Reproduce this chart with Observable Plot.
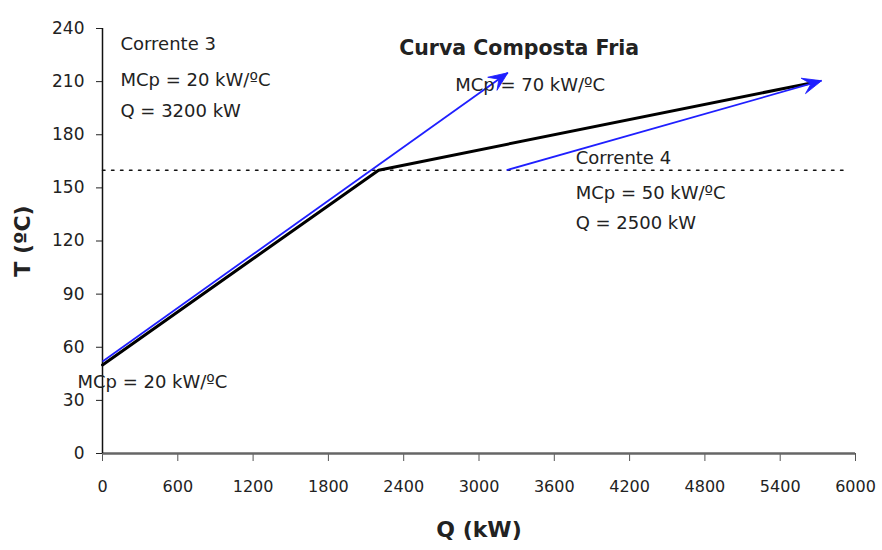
<!DOCTYPE html>
<html><head><meta charset="utf-8">
<script src="https://cdn.jsdelivr.net/npm/d3@7"></script>
<script src="https://cdn.jsdelivr.net/npm/@observablehq/plot@0.6"></script>
<style>body{margin:0;background:#fff}</style>
</head><body><div id="chart"></div>
<script>
const xTicks = [0, 600, 1200, 1800, 2400, 3000, 3600, 4200, 4800, 5400, 6000];
const yTicks = [0, 30, 60, 90, 120, 150, 180, 210, 240];

// composite cold curve
const compositeQ = [0, 2200, 5700];
const compositeT = [50, 160, 210];

// individual streams (arrows)
const streamNames = ["Corrente 3", "Corrente 4"];
const streamQ1 = [0, 3220];
const streamT1 = [52, 160];
const streamQ2 = [3230, 5730];
const streamT2 = [215, 210.5];

// pinch / dotted line
const pinchT = 160;
const pinchQ = [0, 5950];

// annotations
const noteText = ["Corrente 3", "MCp = 20 kW/ºC", "Q = 3200 kW",
  "MCp = 70 kW/ºC",
  "Corrente 4", "MCp = 50 kW/ºC", "Q = 2500 kW",
  "MCp = 20 kW/ºC"];
const noteQ = [143, 143, 143, 2810, 3770, 3770, 3770, -200];
const noteT = [231, 211, 193, 208, 167, 147, 130, 40];

const titleText = "Curva Composta Fria";
const titleQ = 3320;
const titleT = 229;

const composite = compositeQ.map((q, i) => ({q, t: compositeT[i]}));
const streams = streamNames.map((n, i) => ({n, q1: streamQ1[i], t1: streamT1[i], q2: streamQ2[i], t2: streamT2[i]}));
const notes = noteText.map((s, i) => ({s, q: noteQ[i], t: noteT[i]}));
const pinch = pinchQ.map(q => ({q, t: pinchT}));

// stealth arrowhead symbol, tip at origin pointing up
const stealth = {
  draw(ctx, size) {
    const L = 19, W = 8, N = 11;
    ctx.moveTo(0, 0);
    ctx.lineTo(-W, L);
    ctx.lineTo(0, N);
    ctx.lineTo(W, L);
    ctx.closePath();
  }
};

function build(extra) {
  return Plot.plot({
    width: 882, height: 550,
    marginLeft: 102, marginRight: 27, marginTop: 28, marginBottom: 97,
    style: {fontFamily: "DejaVu Sans", fontSize: "16px", color: "#222", background: "#fff"},
    x: {domain: [0, 6000], label: null},
    y: {domain: [0, 240], label: null},
    marks: [
      Plot.axisX({ticks: xTicks, tickFormat: d => String(d), tickSize: 8, tickPadding: 19, label: null, fontSize: 16, stroke: "#555"}),
      Plot.axisY({ticks: yTicks, tickFormat: d => String(d), tickSize: 6, tickPadding: 12, label: null, fontSize: 17}),
      Plot.ruleY([0], {stroke: "#666", strokeWidth: 2.5}),
      Plot.ruleX([0], {stroke: "#111", strokeWidth: 1.5}),
      Plot.line(pinch, {x: "q", y: "t", stroke: "#111", strokeWidth: 1.5, strokeDasharray: "2.5,6.5"}),
      Plot.line(composite, {x: "q", y: "t", stroke: "#000", strokeWidth: 3}),
      Plot.link(streams, {x1: "q1", y1: "t1", x2: "q2", y2: "t2", stroke: "#1f1fff", strokeWidth: 1.8}),
      ...extra,
      Plot.text(notes, {x: "q", y: "t", text: "s", textAnchor: "start", fill: "#222", fontSize: 18}),
      Plot.text([titleText], {x: titleQ, y: titleT, text: d => d, fontWeight: "bold", fontSize: 20.5, fill: "#222"}),
      Plot.text(["Q (kW)"], {frameAnchor: "bottom", dy: 83, text: d => d, textAnchor: "middle", fontWeight: "bold", fontSize: 22, fill: "#222"}),
      Plot.text(["T (ºC)"], {frameAnchor: "left", dx: -80, rotate: -90, text: d => d, textAnchor: "middle", lineAnchor: "middle", fontWeight: "bold", fontSize: 22, fill: "#222"})
    ]
  });
}

const first = build([]);
const sx = first.scale("x"), sy = first.scale("y");
const heads = streams.map(d => {
  const dx = sx.apply(d.q2) - sx.apply(d.q1);
  const dy = sy.apply(d.t2) - sy.apply(d.t1);
  return {q: d.q2, t: d.t2, a: Math.atan2(dy, dx) * 180 / Math.PI + 90};
});
const chart = build([
  Plot.dot(heads, {x: "q", y: "t", rotate: "a", symbol: stealth, r: 5, fill: "#1f1fff", stroke: "#1f1fff", strokeWidth: 0.8})
]);
document.getElementById("chart").appendChild(chart);
</script>
</body></html>
